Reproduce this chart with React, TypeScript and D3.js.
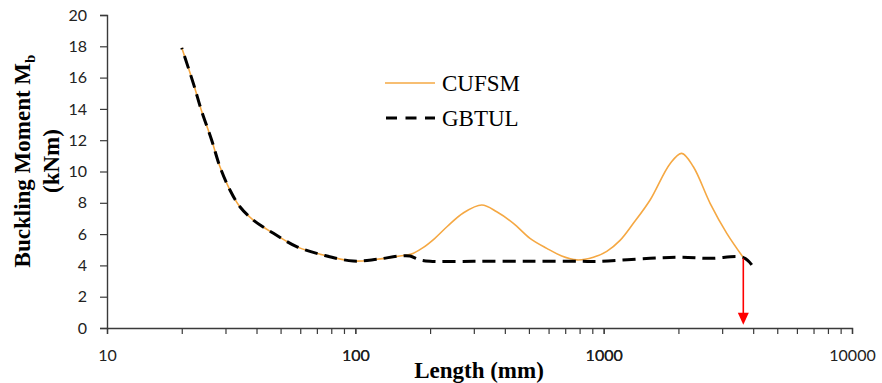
import { useEffect, useRef } from "react";
import * as d3 from "d3";

// shared part of both curves (lengths in mm, moment in kNm)
const sharedLength = [20, 22.3, 24, 26.4, 28.5, 31.3, 34.3, 38.8, 46.8, 58, 74.3, 98, 122, 151];
const sharedMoment = [17.9, 15.6, 13.9, 12.0, 10.3, 8.8, 7.75, 6.9, 6.05, 5.2, 4.66, 4.28, 4.39, 4.6];

const cufsmLength = [168, 186, 208, 235, 272, 323, 371, 433, 505, 590, 678, 780, 909, 1029, 1164, 1317, 1538, 1851, 2063, 2297, 2683, 3132, 3652];
const cufsmMoment = [4.72, 5.1, 5.7, 6.5, 7.35, 7.86, 7.43, 6.69, 5.73, 5.09, 4.6, 4.35, 4.52, 4.9, 5.6, 6.69, 8.18, 10.5, 11.16, 10.3, 7.97, 6.05, 4.5];

const gbtulLength = [166, 182, 200, 300, 500, 800, 967, 1538, 2063, 2683, 3652, 3948];
const gbtulMoment = [4.6, 4.35, 4.26, 4.26, 4.26, 4.26, 4.26, 4.45, 4.52, 4.45, 4.5, 4.03];

const xTicksMajor = [10, 100, 1000, 10000];
const yTicks = [0, 2, 4, 6, 8, 10, 12, 14, 16, 18, 20];
const seriesNames = ["CUFSM", "GBTUL"];

// red arrow marking the member length
const arrowLength = 3650;
const arrowFrom = 4.45;
const arrowTo = 0.2;

const W = 882;
const H = 383;
const margin = { left: 107, right: 30, top: 15, bottom: 55 };

export default function App() {
  const svgRef = useRef<SVGSVGElement>(null);

  useEffect(() => {
    const svg = d3.select(svgRef.current);
    svg.selectAll("*").remove();

    const x = d3.scaleLog().domain([10, 10000]).range([margin.left, W - margin.right]);
    const y = d3.scaleLinear().domain([0, 20]).range([H - margin.bottom, margin.top]);

    const minorTicks: number[] = [];
    for (let p = 10; p < 10000; p *= 10) {
      for (let k = 1; k <= 10; k++) minorTicks.push(p * k);
    }

    const axisColor = "#3a3a3a";
    const tickFont = "Lato, 'Open Sans', sans-serif";

    // x axis
    const gx = svg
      .append("g")
      .attr("transform", `translate(0,${y(0)})`)
      .call(
        d3
          .axisBottom(x)
          .tickValues(minorTicks)
          .tickSize(6)
          .tickPadding(16)
          .tickFormat((d) => (xTicksMajor.includes(+d) ? String(d) : ""))
      );
    gx.select(".domain").attr("stroke", axisColor).attr("stroke-width", 1.4);
    gx.selectAll(".tick line").attr("stroke", axisColor).attr("stroke-width", 1.2);
    gx.selectAll("text").attr("font-family", tickFont).attr("font-size", 16).attr("fill", "#222");

    // y axis
    const gy = svg
      .append("g")
      .attr("transform", `translate(${margin.left},0)`)
      .call(d3.axisLeft(y).tickValues(yTicks).tickSize(7).tickPadding(13));
    gy.select(".domain").attr("stroke", axisColor).attr("stroke-width", 1.4);
    gy.selectAll(".tick line").attr("stroke", axisColor).attr("stroke-width", 1.2);
    gy.selectAll("text").attr("font-family", tickFont).attr("font-size", 16).attr("fill", "#222");

    const line = d3
      .line<[number, number]>()
      .x((d) => x(d[0]))
      .y((d) => y(d[1]))
      .curve(d3.curveCatmullRom.alpha(0.5));

    const shared: [number, number][] = sharedLength.map((l, i) => [l, sharedMoment[i]]);
    const cufsm = shared.concat(cufsmLength.map((l, i) => [l, cufsmMoment[i]] as [number, number]));
    const gbtul = shared.concat(gbtulLength.map((l, i) => [l, gbtulMoment[i]] as [number, number]));

    svg
      .append("path")
      .attr("d", line(cufsm))
      .attr("fill", "none")
      .attr("stroke", "#f5a843")
      .attr("stroke-width", 1.6);

    const dashPath = svg
      .append("path")
      .attr("d", line(gbtul))
      .attr("fill", "none")
      .attr("stroke", "#000")
      .attr("stroke-width", 3)
      .attr("stroke-dasharray", "13,7");
    // make the dash pattern finish on a dash so the final drop is visible
    const total = (dashPath.node() as SVGPathElement).getTotalLength();
    dashPath.attr("stroke-dashoffset", (((12.5 - total) % 20) + 20) % 20);

    // arrow
    const ax = x(arrowLength);
    const tipY = y(arrowTo);
    svg
      .append("line")
      .attr("x1", ax)
      .attr("x2", ax)
      .attr("y1", y(arrowFrom))
      .attr("y2", tipY - 10)
      .attr("stroke", "#ff0000")
      .attr("stroke-width", 1.6);
    svg
      .append("path")
      .attr("d", `M${ax - 5.5},${tipY - 12}L${ax + 5.5},${tipY - 12}L${ax},${tipY}Z`)
      .attr("fill", "#ff0000");

    // legend
    const legend = svg.append("g");
    legend
      .append("line")
      .attr("x1", 385)
      .attr("x2", 435)
      .attr("y1", 83)
      .attr("y2", 83)
      .attr("stroke", "#f5a843")
      .attr("stroke-width", 1.6);
    legend
      .append("line")
      .attr("x1", 386)
      .attr("x2", 435)
      .attr("y1", 118)
      .attr("y2", 118)
      .attr("stroke", "#000")
      .attr("stroke-width", 3)
      .attr("stroke-dasharray", "11,8.5");
    legend
      .selectAll("text")
      .data(seriesNames)
      .enter()
      .append("text")
      .attr("x", 442)
      .attr("y", (d, i) => 91 + i * 35)
      .attr("font-family", "'Liberation Serif', 'Times New Roman', serif")
      .attr("font-size", 23)
      .attr("fill", "#000")
      .text((d) => d);

    // axis titles
    const serif = "'Liberation Serif', 'Times New Roman', serif";
    const yt = svg
      .append("text")
      .attr("transform", `translate(30,161) rotate(-90)`)
      .attr("text-anchor", "middle")
      .attr("font-family", serif)
      .attr("font-weight", "bold")
      .attr("font-size", 23);
    yt.append("tspan").text("Buckling Moment M");
    yt.append("tspan").attr("font-size", 15).attr("dy", 5).text("b");
    svg
      .append("text")
      .attr("transform", `translate(59,161) rotate(-90)`)
      .attr("text-anchor", "middle")
      .attr("font-family", serif)
      .attr("font-weight", "bold")
      .attr("font-size", 23)
      .text("(kNm)");
    svg
      .append("text")
      .attr("x", 479)
      .attr("y", 378)
      .attr("text-anchor", "middle")
      .attr("font-family", serif)
      .attr("font-weight", "bold")
      .attr("font-size", 23)
      .text("Length (mm)");
  }, []);

  return (
    <svg
      ref={svgRef}
      width={W}
      height={H}
      style={{ position: "absolute", left: 0, top: 0, background: "#fff" }}
    ></svg>
  );
}
